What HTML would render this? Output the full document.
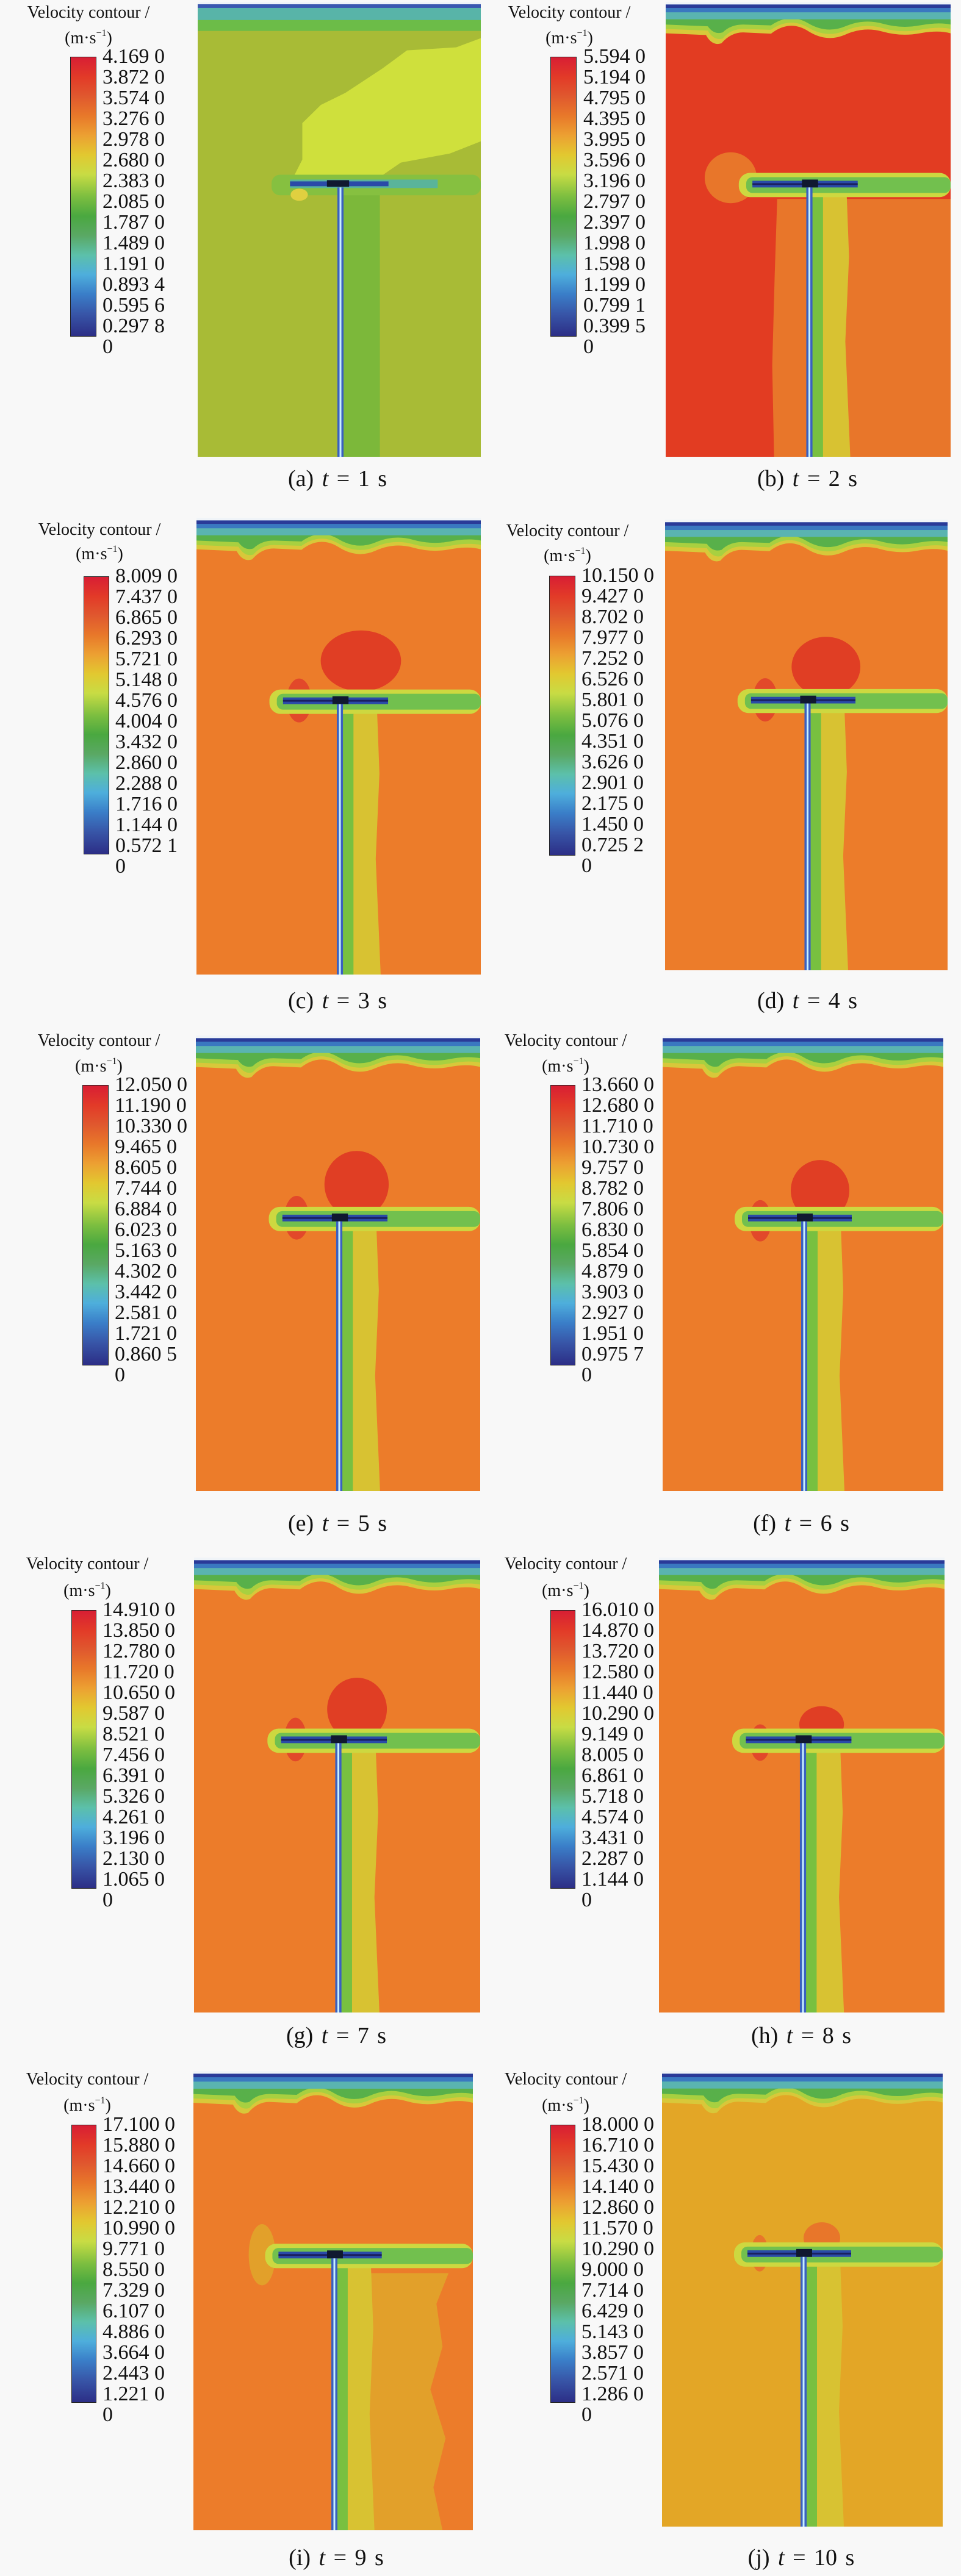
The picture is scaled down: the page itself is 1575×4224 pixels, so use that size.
<!DOCTYPE html>
<html><head><meta charset="utf-8">
<style>
html,body{margin:0;padding:0;background:#f8f8f8;}
body{width:1575px;height:4224px;position:relative;overflow:hidden;font-family:"Liberation Serif",serif;color:#111;}
.cb{position:absolute;border:1.5px solid #222;box-sizing:border-box;background:linear-gradient(to bottom,#d81e34 0%,#e23a28 7%,#e0582e 14%,#e8782a 21%,#eca032 28%,#e2c830 35%,#c8dc44 42%,#7cbe40 50%,#4aa840 57%,#5aa864 64%,#5cc0aa 71%,#4eaedc 78%,#3a7ec8 85%,#3856a8 92%,#2c2e86 100%);}
.lb{position:absolute;display:flex;flex-direction:column;justify-content:space-between;font-size:34px;line-height:34px;white-space:nowrap;}
.tt{position:absolute;width:400px;text-align:center;font-size:28px;line-height:32px;white-space:nowrap;}
.cap{position:absolute;width:400px;text-align:center;font-size:38px;line-height:44px;white-space:nowrap;word-spacing:4px;}
sup{font-size:16px;vertical-align:top;line-height:16px;}
svg.p{position:absolute;}
</style></head><body>
<svg width="0" height="0" style="position:absolute">
<defs>
<g id="top" transform="scale(1,0.72)">
<path d="M0 0H460V72Q440 64 410 72T350 68T290 75T230 67T170 73L125 70Q105 70 90 95Q75 102 65 76L0 72Z" fill="#d8c83a"/>
<path d="M0 0H460V62Q440 56 410 64T350 60T290 66T230 59T170 64L125 62Q105 62 92 84Q78 90 68 66L0 62Z" fill="#a8d040"/>
<path d="M0 0H460V52Q440 46 410 54T350 50T290 56T230 49T170 54L125 52Q105 52 92 70Q78 76 68 56L0 52Z" fill="#58b04a"/>
<rect width="460" height="40" fill="#5ab4b0"/>
<rect width="460" height="24" fill="#3a78c0"/>
<rect y="6" width="460" height="8" fill="#2a3a98"/>
<rect width="460" height="6" fill="#f0f4f8"/>
</g>
<g id="rotor">
<path d="M236 312L292 312L296 420L290 560L298 750L236 750Z" fill="#d8c232"/>
<rect x="236" y="312" width="18" height="438" fill="#78c040"/>
<rect x="118" y="282" width="342" height="40" rx="18" fill="#cdd840"/>
<rect x="130" y="289" width="330" height="26" rx="10" fill="#72c04e"/>
<rect x="140" y="295" width="170" height="11" fill="#2a4aa8"/>
<rect x="140" y="299" width="170" height="3" fill="#1a2060"/>
<rect x="220" y="293" width="26" height="13" fill="#101830"/>
<rect x="227" y="306" width="10" height="444" fill="#3a60c0"/>
<rect x="230.5" y="306" width="3" height="444" fill="#c8f0ff"/>
</g>
</defs>
</svg>

<!-- (a) -->
<svg class="p" style="left:324px;top:3px" width="464" height="746" viewBox="0 0 460 750" preserveAspectRatio="none">
<rect width="460" height="750" fill="#a8bb36"/>
<path d="M340 80L420 75L460 60V230L410 250L330 265L280 300L200 290L150 300L170 260L170 200L200 170L240 150L300 110Z" fill="#cfe03c"/>
<rect y="0" width="460" height="48" fill="#6cbc48"/>
<rect y="0" width="460" height="30" fill="#58b4a8"/>
<rect y="0" width="460" height="10" fill="#3a58b0"/>
<rect width="460" height="4" fill="#f0f4f8"/>
<rect x="236" y="310" width="60" height="440" fill="#7cb83a"/>
<rect x="120" y="285" width="340" height="34" rx="14" fill="#86c040"/>
<rect x="150" y="293" width="240" height="14" fill="#5ab49a"/>
<rect x="150" y="296" width="160" height="8" fill="#2a4aa8"/>
<rect x="210" y="294" width="36" height="11" fill="#101830"/>
<ellipse cx="165" cy="318" rx="14" ry="10" fill="#e0d040"/>
<rect x="227" y="306" width="10" height="444" fill="#3a60c0"/>
<rect x="230.5" y="306" width="3" height="444" fill="#c8f0ff"/>
</svg>
<div class="tt" style="left:-55px;top:5px">Velocity contour /</div>
<div class="tt" style="left:-55px;top:47px">(m·s<sup>−1</sup>)</div>
<div class="cb" style="left:115px;top:93px;width:43px;height:459px"></div>
<div class="lb" style="left:168px;top:76px;height:493px"><span>4.169 0</span><span>3.872 0</span><span>3.574 0</span><span>3.276 0</span><span>2.978 0</span><span>2.680 0</span><span>2.383 0</span><span>2.085 0</span><span>1.787 0</span><span>1.489 0</span><span>1.191 0</span><span>0.893 4</span><span>0.595 6</span><span>0.297 8</span><span>0</span></div>
<div class="cap" style="left:353px;top:763px">(a) <i>t</i> = 1 s</div>

<!-- (b) -->
<svg class="p" style="left:1091px;top:3px" width="467" height="746" viewBox="0 0 460 750" preserveAspectRatio="none">
<rect width="460" height="750" fill="#e23c22"/>
<path d="M180 325L460 325V750H175L172 600L176 450Z" fill="#e8762a"/>
<circle cx="105" cy="290" r="42" fill="#e8762a"/>
<use href="#top"/>
<use href="#rotor"/>
</svg>
<div class="tt" style="left:733px;top:5px">Velocity contour /</div>
<div class="tt" style="left:733px;top:47px">(m·s<sup>−1</sup>)</div>
<div class="cb" style="left:902px;top:93px;width:43px;height:459px"></div>
<div class="lb" style="left:956px;top:76px;height:493px"><span>5.594 0</span><span>5.194 0</span><span>4.795 0</span><span>4.395 0</span><span>3.995 0</span><span>3.596 0</span><span>3.196 0</span><span>2.797 0</span><span>2.397 0</span><span>1.998 0</span><span>1.598 0</span><span>1.199 0</span><span>0.799 1</span><span>0.399 5</span><span>0</span></div>
<div class="cap" style="left:1123px;top:763px">(b) <i>t</i> = 2 s</div>

<!-- (c) -->
<svg class="p" style="left:322px;top:849px" width="466" height="749" viewBox="0 0 460 750" preserveAspectRatio="none">
<rect width="460" height="750" fill="#ec7c2a"/>
<ellipse cx="266" cy="235" rx="65" ry="50" fill="#e03e24"/>
<ellipse cx="166" cy="300" rx="20" ry="36" fill="#e2482a"/>
<use href="#top"/><use href="#rotor"/>
</svg>
<div class="tt" style="left:-37px;top:853px">Velocity contour /</div>
<div class="tt" style="left:-37px;top:893px">(m·s<sup>−1</sup>)</div>
<div class="cb" style="left:137px;top:945px;width:42px;height:456px"></div>
<div class="lb" style="left:189px;top:928px;height:490px"><span>8.009 0</span><span>7.437 0</span><span>6.865 0</span><span>6.293 0</span><span>5.721 0</span><span>5.148 0</span><span>4.576 0</span><span>4.004 0</span><span>3.432 0</span><span>2.860 0</span><span>2.288 0</span><span>1.716 0</span><span>1.144 0</span><span>0.572 1</span><span>0</span></div>
<div class="cap" style="left:353px;top:1619px">(c) <i>t</i> = 3 s</div>

<!-- (d) -->
<svg class="p" style="left:1090px;top:852px" width="463" height="739" viewBox="0 0 460 750" preserveAspectRatio="none">
<rect width="460" height="750" fill="#ec7c2a"/>
<ellipse cx="262" cy="245" rx="56" ry="50" fill="#e03e24"/>
<ellipse cx="163" cy="300" rx="20" ry="36" fill="#e2482a"/>
<use href="#top"/><use href="#rotor"/>
</svg>
<div class="tt" style="left:730px;top:855px">Velocity contour /</div>
<div class="tt" style="left:730px;top:896px">(m·s<sup>−1</sup>)</div>
<div class="cb" style="left:900px;top:944px;width:43px;height:459px"></div>
<div class="lb" style="left:953px;top:927px;height:493px"><span>10.150 0</span><span>9.427 0</span><span>8.702 0</span><span>7.977 0</span><span>7.252 0</span><span>6.526 0</span><span>5.801 0</span><span>5.076 0</span><span>4.351 0</span><span>3.626 0</span><span>2.901 0</span><span>2.175 0</span><span>1.450 0</span><span>0.725 2</span><span>0</span></div>
<div class="cap" style="left:1123px;top:1619px">(d) <i>t</i> = 4 s</div>

<!-- (e) -->
<svg class="p" style="left:321px;top:1698px" width="466" height="747" viewBox="0 0 460 750" preserveAspectRatio="none">
<rect width="460" height="750" fill="#ec7c2a"/>
<ellipse cx="260" cy="245" rx="52" ry="55" fill="#e03e24"/>
<ellipse cx="163" cy="300" rx="20" ry="36" fill="#e2482a"/>
<use href="#top"/><use href="#rotor"/>
</svg>
<div class="tt" style="left:-38px;top:1691px">Velocity contour /</div>
<div class="tt" style="left:-38px;top:1733px">(m·s<sup>−1</sup>)</div>
<div class="cb" style="left:135px;top:1779px;width:43px;height:460px"></div>
<div class="lb" style="left:188px;top:1762px;height:494px"><span>12.050 0</span><span>11.190 0</span><span>10.330 0</span><span>9.465 0</span><span>8.605 0</span><span>7.744 0</span><span>6.884 0</span><span>6.023 0</span><span>5.163 0</span><span>4.302 0</span><span>3.442 0</span><span>2.581 0</span><span>1.721 0</span><span>0.860 5</span><span>0</span></div>
<div class="cap" style="left:353px;top:2476px">(e) <i>t</i> = 5 s</div>

<!-- (f) -->
<svg class="p" style="left:1086px;top:1698px" width="460" height="747" viewBox="0 0 460 750" preserveAspectRatio="none">
<rect width="460" height="750" fill="#ec7c2a"/>
<ellipse cx="258" cy="255" rx="48" ry="50" fill="#e03e24"/>
<ellipse cx="160" cy="305" rx="18" ry="34" fill="#e2482a"/>
<use href="#top"/><use href="#rotor"/>
</svg>
<div class="tt" style="left:727px;top:1691px">Velocity contour /</div>
<div class="tt" style="left:727px;top:1733px">(m·s<sup>−1</sup>)</div>
<div class="cb" style="left:902px;top:1779px;width:41px;height:460px"></div>
<div class="lb" style="left:953px;top:1762px;height:494px"><span>13.660 0</span><span>12.680 0</span><span>11.710 0</span><span>10.730 0</span><span>9.757 0</span><span>8.782 0</span><span>7.806 0</span><span>6.830 0</span><span>5.854 0</span><span>4.879 0</span><span>3.903 0</span><span>2.927 0</span><span>1.951 0</span><span>0.975 7</span><span>0</span></div>
<div class="cap" style="left:1113px;top:2476px">(f) <i>t</i> = 6 s</div>

<!-- (g) -->
<svg class="p" style="left:318px;top:2554px" width="469" height="746" viewBox="0 0 460 750" preserveAspectRatio="none">
<rect width="460" height="750" fill="#ec7c2a"/>
<ellipse cx="262" cy="250" rx="48" ry="52" fill="#e03e24"/>
<ellipse cx="163" cy="300" rx="18" ry="36" fill="#e2482a"/>
<use href="#top"/><use href="#rotor"/>
</svg>
<div class="tt" style="left:-57px;top:2549px">Velocity contour /</div>
<div class="tt" style="left:-57px;top:2593px">(m·s<sup>−1</sup>)</div>
<div class="cb" style="left:117px;top:2640px;width:41px;height:457px"></div>
<div class="lb" style="left:168px;top:2623px;height:491px"><span>14.910 0</span><span>13.850 0</span><span>12.780 0</span><span>11.720 0</span><span>10.650 0</span><span>9.587 0</span><span>8.521 0</span><span>7.456 0</span><span>6.391 0</span><span>5.326 0</span><span>4.261 0</span><span>3.196 0</span><span>2.130 0</span><span>1.065 0</span><span>0</span></div>
<div class="cap" style="left:351px;top:3316px">(g) <i>t</i> = 7 s</div>

<!-- (h) -->
<svg class="p" style="left:1080px;top:2554px" width="468" height="746" viewBox="0 0 460 750" preserveAspectRatio="none">
<rect width="460" height="750" fill="#ec7c2a"/>
<ellipse cx="262" cy="275" rx="36" ry="30" fill="#e03e24"/>
<ellipse cx="163" cy="305" rx="16" ry="30" fill="#e2482a"/>
<use href="#top"/><use href="#rotor"/>
</svg>
<div class="tt" style="left:727px;top:2549px">Velocity contour /</div>
<div class="tt" style="left:727px;top:2593px">(m·s<sup>−1</sup>)</div>
<div class="cb" style="left:902px;top:2640px;width:41px;height:457px"></div>
<div class="lb" style="left:953px;top:2623px;height:491px"><span>16.010 0</span><span>14.870 0</span><span>13.720 0</span><span>12.580 0</span><span>11.440 0</span><span>10.290 0</span><span>9.149 0</span><span>8.005 0</span><span>6.861 0</span><span>5.718 0</span><span>4.574 0</span><span>3.431 0</span><span>2.287 0</span><span>1.144 0</span><span>0</span></div>
<div class="cap" style="left:1113px;top:3316px">(h) <i>t</i> = 8 s</div>

<!-- (i) -->
<svg class="p" style="left:317px;top:3396px" width="458" height="753" viewBox="0 0 460 750" preserveAspectRatio="none">
<rect width="460" height="750" fill="#ec7c2a"/>
<path d="M236 330L420 330L400 380L410 450L390 520L415 600L395 680L410 750H236Z" fill="#e2a02a"/>
<ellipse cx="113" cy="300" rx="22" ry="50" fill="#e2a02a"/>
<use href="#top"/><use href="#rotor"/>
</svg>
<div class="tt" style="left:-57px;top:3394px">Velocity contour /</div>
<div class="tt" style="left:-57px;top:3437px">(m·s<sup>−1</sup>)</div>
<div class="cb" style="left:117px;top:3484px;width:41px;height:456px"></div>
<div class="lb" style="left:168px;top:3467px;height:490px"><span>17.100 0</span><span>15.880 0</span><span>14.660 0</span><span>13.440 0</span><span>12.210 0</span><span>10.990 0</span><span>9.771 0</span><span>8.550 0</span><span>7.329 0</span><span>6.107 0</span><span>4.886 0</span><span>3.664 0</span><span>2.443 0</span><span>1.221 0</span><span>0</span></div>
<div class="cap" style="left:351px;top:4172px">(i) <i>t</i> = 9 s</div>

<!-- (j) -->
<svg class="p" style="left:1085px;top:3396px" width="460" height="747" viewBox="0 0 460 750" preserveAspectRatio="none">
<rect width="460" height="750" fill="#e3a626"/>
<ellipse cx="262" cy="275" rx="30" ry="26" fill="#e8762a"/>
<ellipse cx="160" cy="300" rx="14" ry="30" fill="#e8762a"/>
<use href="#top"/><use href="#rotor"/>
</svg>
<div class="tt" style="left:727px;top:3394px">Velocity contour /</div>
<div class="tt" style="left:727px;top:3437px">(m·s<sup>−1</sup>)</div>
<div class="cb" style="left:902px;top:3484px;width:41px;height:456px"></div>
<div class="lb" style="left:953px;top:3467px;height:490px"><span>18.000 0</span><span>16.710 0</span><span>15.430 0</span><span>14.140 0</span><span>12.860 0</span><span>11.570 0</span><span>10.290 0</span><span>9.000 0</span><span>7.714 0</span><span>6.429 0</span><span>5.143 0</span><span>3.857 0</span><span>2.571 0</span><span>1.286 0</span><span>0</span></div>
<div class="cap" style="left:1113px;top:4172px">(j) <i>t</i> = 10 s</div>
</body></html>
